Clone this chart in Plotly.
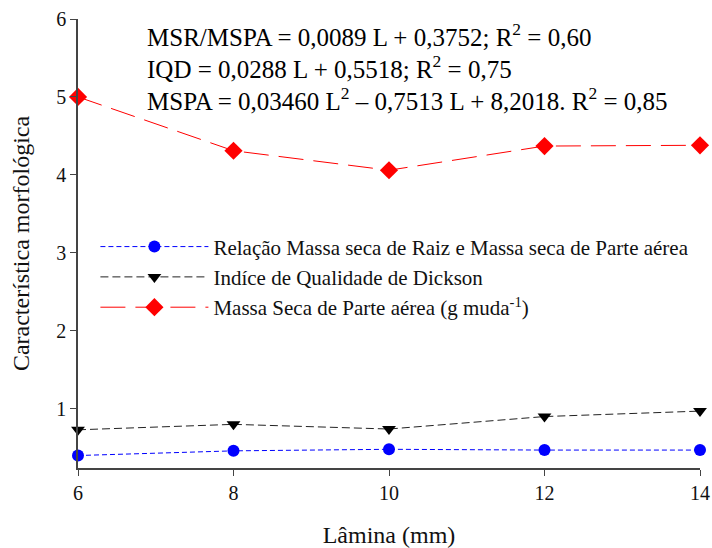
import plotly.graph_objects as go

lamina = [6, 8, 10, 12, 14]
msr_mspa = [0.40, 0.46, 0.48, 0.47, 0.47]
iqd = [0.73, 0.80, 0.74, 0.90, 0.97]
mspa = [5.00, 4.31, 4.06, 4.37, 4.38]
y_ticks = [1, 2, 3, 4, 5, 6]

names = [
    "Relação Massa seca de Raiz e Massa seca de Parte aérea",
    "Indíce de Qualidade de Dickson",
    "Massa Seca de Parte aérea (g muda<sup>-1</sup>)",
]
equations = [
    "MSR/MSPA = 0,0089 L + 0,3752; R<sup>2</sup> = 0,60",
    "IQD = 0,0288 L + 0,5518; R<sup>2</sup> = 0,75",
    "MSPA = 0,03460 L<sup>2</sup> – 0,7513 L + 8,2018. R<sup>2</sup> = 0,85",
]
eq_y = [5.80, 5.39, 4.98]

FONT = "Liberation Serif"

fig = go.Figure()
fig.add_trace(go.Scatter(
    x=lamina, y=msr_mspa, name=names[0], mode="lines+markers",
    line=dict(color="#0000ff", width=1, dash="5px,3px"),
    marker=dict(symbol="circle", size=12, color="#0000ff"),
    cliponaxis=False))
fig.add_trace(go.Scatter(
    x=lamina, y=iqd, name=names[1], mode="lines+markers",
    line=dict(color="#222222", width=1, dash="8px,4px"),
    marker=dict(symbol="triangle-down", size=12, color="#000000"),
    cliponaxis=False))
fig.add_trace(go.Scatter(
    x=lamina, y=mspa, name=names[2], mode="lines+markers",
    line=dict(color="#ff0000", width=1, dash="25px,10px"),
    marker=dict(symbol="diamond", size=14, color="#ff0000"),
    cliponaxis=False))

for txt, yv in zip(equations, eq_y):
    fig.add_annotation(x=0.108, xref="paper", y=yv, yref="y", text=txt,
                       showarrow=False, xanchor="left", yanchor="middle",
                       font=dict(family=FONT, size=25, color="#000"))

fig.update_layout(
    width=712, height=548,
    margin=dict(l=78, r=12, t=19, b=80),
    paper_bgcolor="white", plot_bgcolor="white",
    font=dict(family=FONT, color="#111"),
    showlegend=True,
    legend=dict(x=0.028, y=0.538, xanchor="left", yanchor="top",
                font=dict(family=FONT, size=21, color="#111"),
                bgcolor="rgba(0,0,0,0)",
                traceorder="normal", itemwidth=108),
    xaxis=dict(range=[6, 14], tickvals=lamina, showgrid=False, zeroline=False,
               showline=True, linecolor="#444", linewidth=1.5, automargin=False,
               ticks="outside", ticklen=6, tickcolor="#444",
               tickfont=dict(family=FONT, size=20, color="#111"),
               title=dict(text="Lâmina (mm)", font=dict(family=FONT, size=24, color="#111"), standoff=29)),
    yaxis=dict(range=[0.24, 6], tickvals=y_ticks, showgrid=False, zeroline=False,
               showline=True, linecolor="#444", linewidth=1.5, automargin=False,
               ticks="outside", ticklen=6, tickcolor="#444",
               tickfont=dict(family=FONT, size=20, color="#111"),
               title=dict(text="Característica morfológica", font=dict(family=FONT, size=24, color="#111"), standoff=20)),
)

fig.write_html("out.html", config={"displayModeBar": False},
               post_script="document.body.style.margin='0';document.body.style.overflow='hidden';")
